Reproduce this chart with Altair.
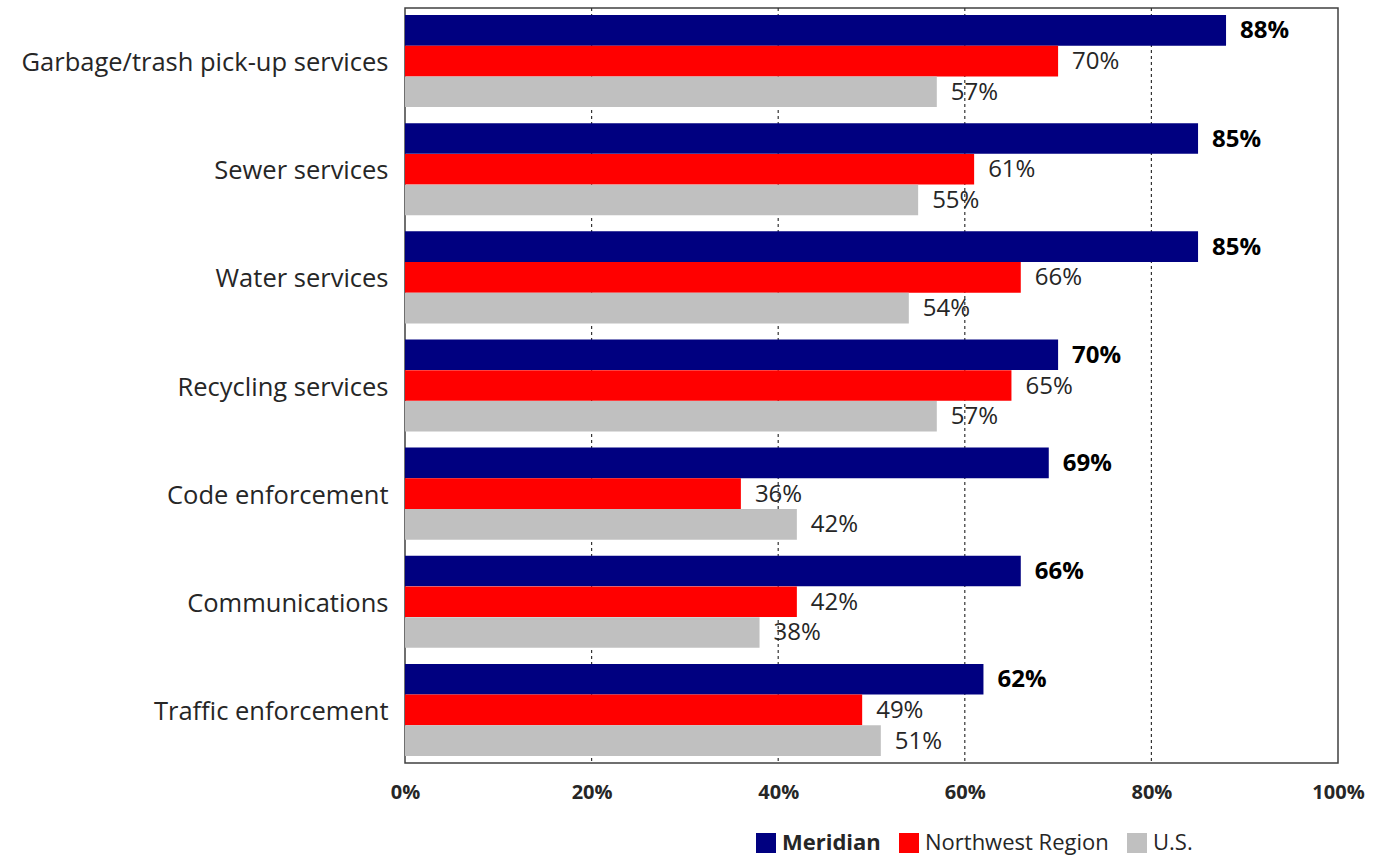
import altair as alt
import pandas as pd

categories = [
    "Garbage/trash pick-up services",
    "Sewer services",
    "Water services",
    "Recycling services",
    "Code enforcement",
    "Communications",
    "Traffic enforcement",
]
series = ["Meridian", "Northwest Region", "U.S."]
meridian = [88, 85, 85, 70, 69, 66, 62]
northwest = [70, 61, 66, 65, 36, 42, 49]
us = [57, 55, 54, 57, 42, 38, 51]
colors = ["#000080", "#FF0000", "#C0C0C0"]
x_ticks = [0, 20, 40, 60, 80, 100]
grid_ticks = [20, 40, 60, 80]

rows = []
for s, vals in zip(series, [meridian, northwest, us]):
    for c, v in zip(categories, vals):
        rows.append({"category": c, "series": s, "value": v})
df = pd.DataFrame(rows)

FONT = "Open Sans"

y_enc = alt.Y(
    "category:N",
    sort=categories,
    scale=alt.Scale(paddingInner=0.148, paddingOuter=0.065),
    axis=alt.Axis(
        title=None, ticks=False, domain=False, labelFontSize=25.5, labelFont=FONT,
        labelColor="#262626", labelPadding=17, labelLimit=420, labelOffset=2,
    ),
)
x_scale = alt.Scale(domain=[0, 100], nice=False)
x_axis = alt.Axis(
    title=None, values=x_ticks, labelExpr="datum.value + '%'",
    ticks=False, domain=False, grid=False, labelFontSize=20, labelFont=FONT,
    labelFontWeight="bold", labelColor="#262626", labelPadding=19, labelFlush=False,
)

base = alt.Chart(df)

grid = alt.Chart(pd.DataFrame({"g": grid_ticks})).mark_rule(
    color="#333333", strokeDash=[3, 3], strokeWidth=1.2
).encode(x=alt.X("g:Q", scale=x_scale, axis=x_axis))

bars = base.mark_bar(size=30.6).encode(
    y=y_enc,
    yOffset=alt.YOffset("series:N", sort=series, scale=alt.Scale(paddingInner=0, paddingOuter=0)),
    x=alt.X("value:Q", scale=x_scale, axis=x_axis),
    color=alt.Color(
        "series:N", sort=series, scale=alt.Scale(domain=series, range=colors),
        legend=alt.Legend(
            title=None, orient="none", direction="horizontal", legendX=350, legendY=824,
            symbolType="square", symbolSize=400, symbolStrokeWidth=0, labelFontSize=22,
            labelFont=FONT, labelColor="#262626", columnPadding=17, labelOffset=5,
            labelLimit=300,
            labelFontWeight=alt.ExprRef("datum.label == 'Meridian' ? 'bold' : 'normal'"),
        ),
    ),
)

text_common = dict(
    y=alt.Y("category:N", sort=categories),
    yOffset=alt.YOffset("series:N", sort=series),
    x=alt.X("value:Q", scale=x_scale),
    text=alt.Text("lbl:N"),
)

text_bold = base.transform_filter(alt.datum.series == "Meridian").transform_calculate(
    lbl="datum.value + '%'"
).mark_text(
    align="left", baseline="middle", dx=14, dy=1, fontSize=24, font=FONT, fontWeight="bold", color="#000000"
).encode(**text_common)

text_norm = base.transform_filter(alt.datum.series != "Meridian").transform_calculate(
    lbl="datum.value + '%'"
).mark_text(
    align="left", baseline="middle", dx=14, dy=1, fontSize=24, font=FONT, color="#262626"
).encode(**text_common)

chart = alt.layer(grid, bars, text_bold, text_norm).properties(
    width=933, height=755,
    autosize=alt.AutoSizeParams(type="none"),
    padding={"left": 405, "top": 8, "right": 38, "bottom": 93},
).configure(background="white").configure_view(stroke="#404040", strokeWidth=1.5)

chart.save("out.html", embed_options={"renderer": "svg", "actions": False})
